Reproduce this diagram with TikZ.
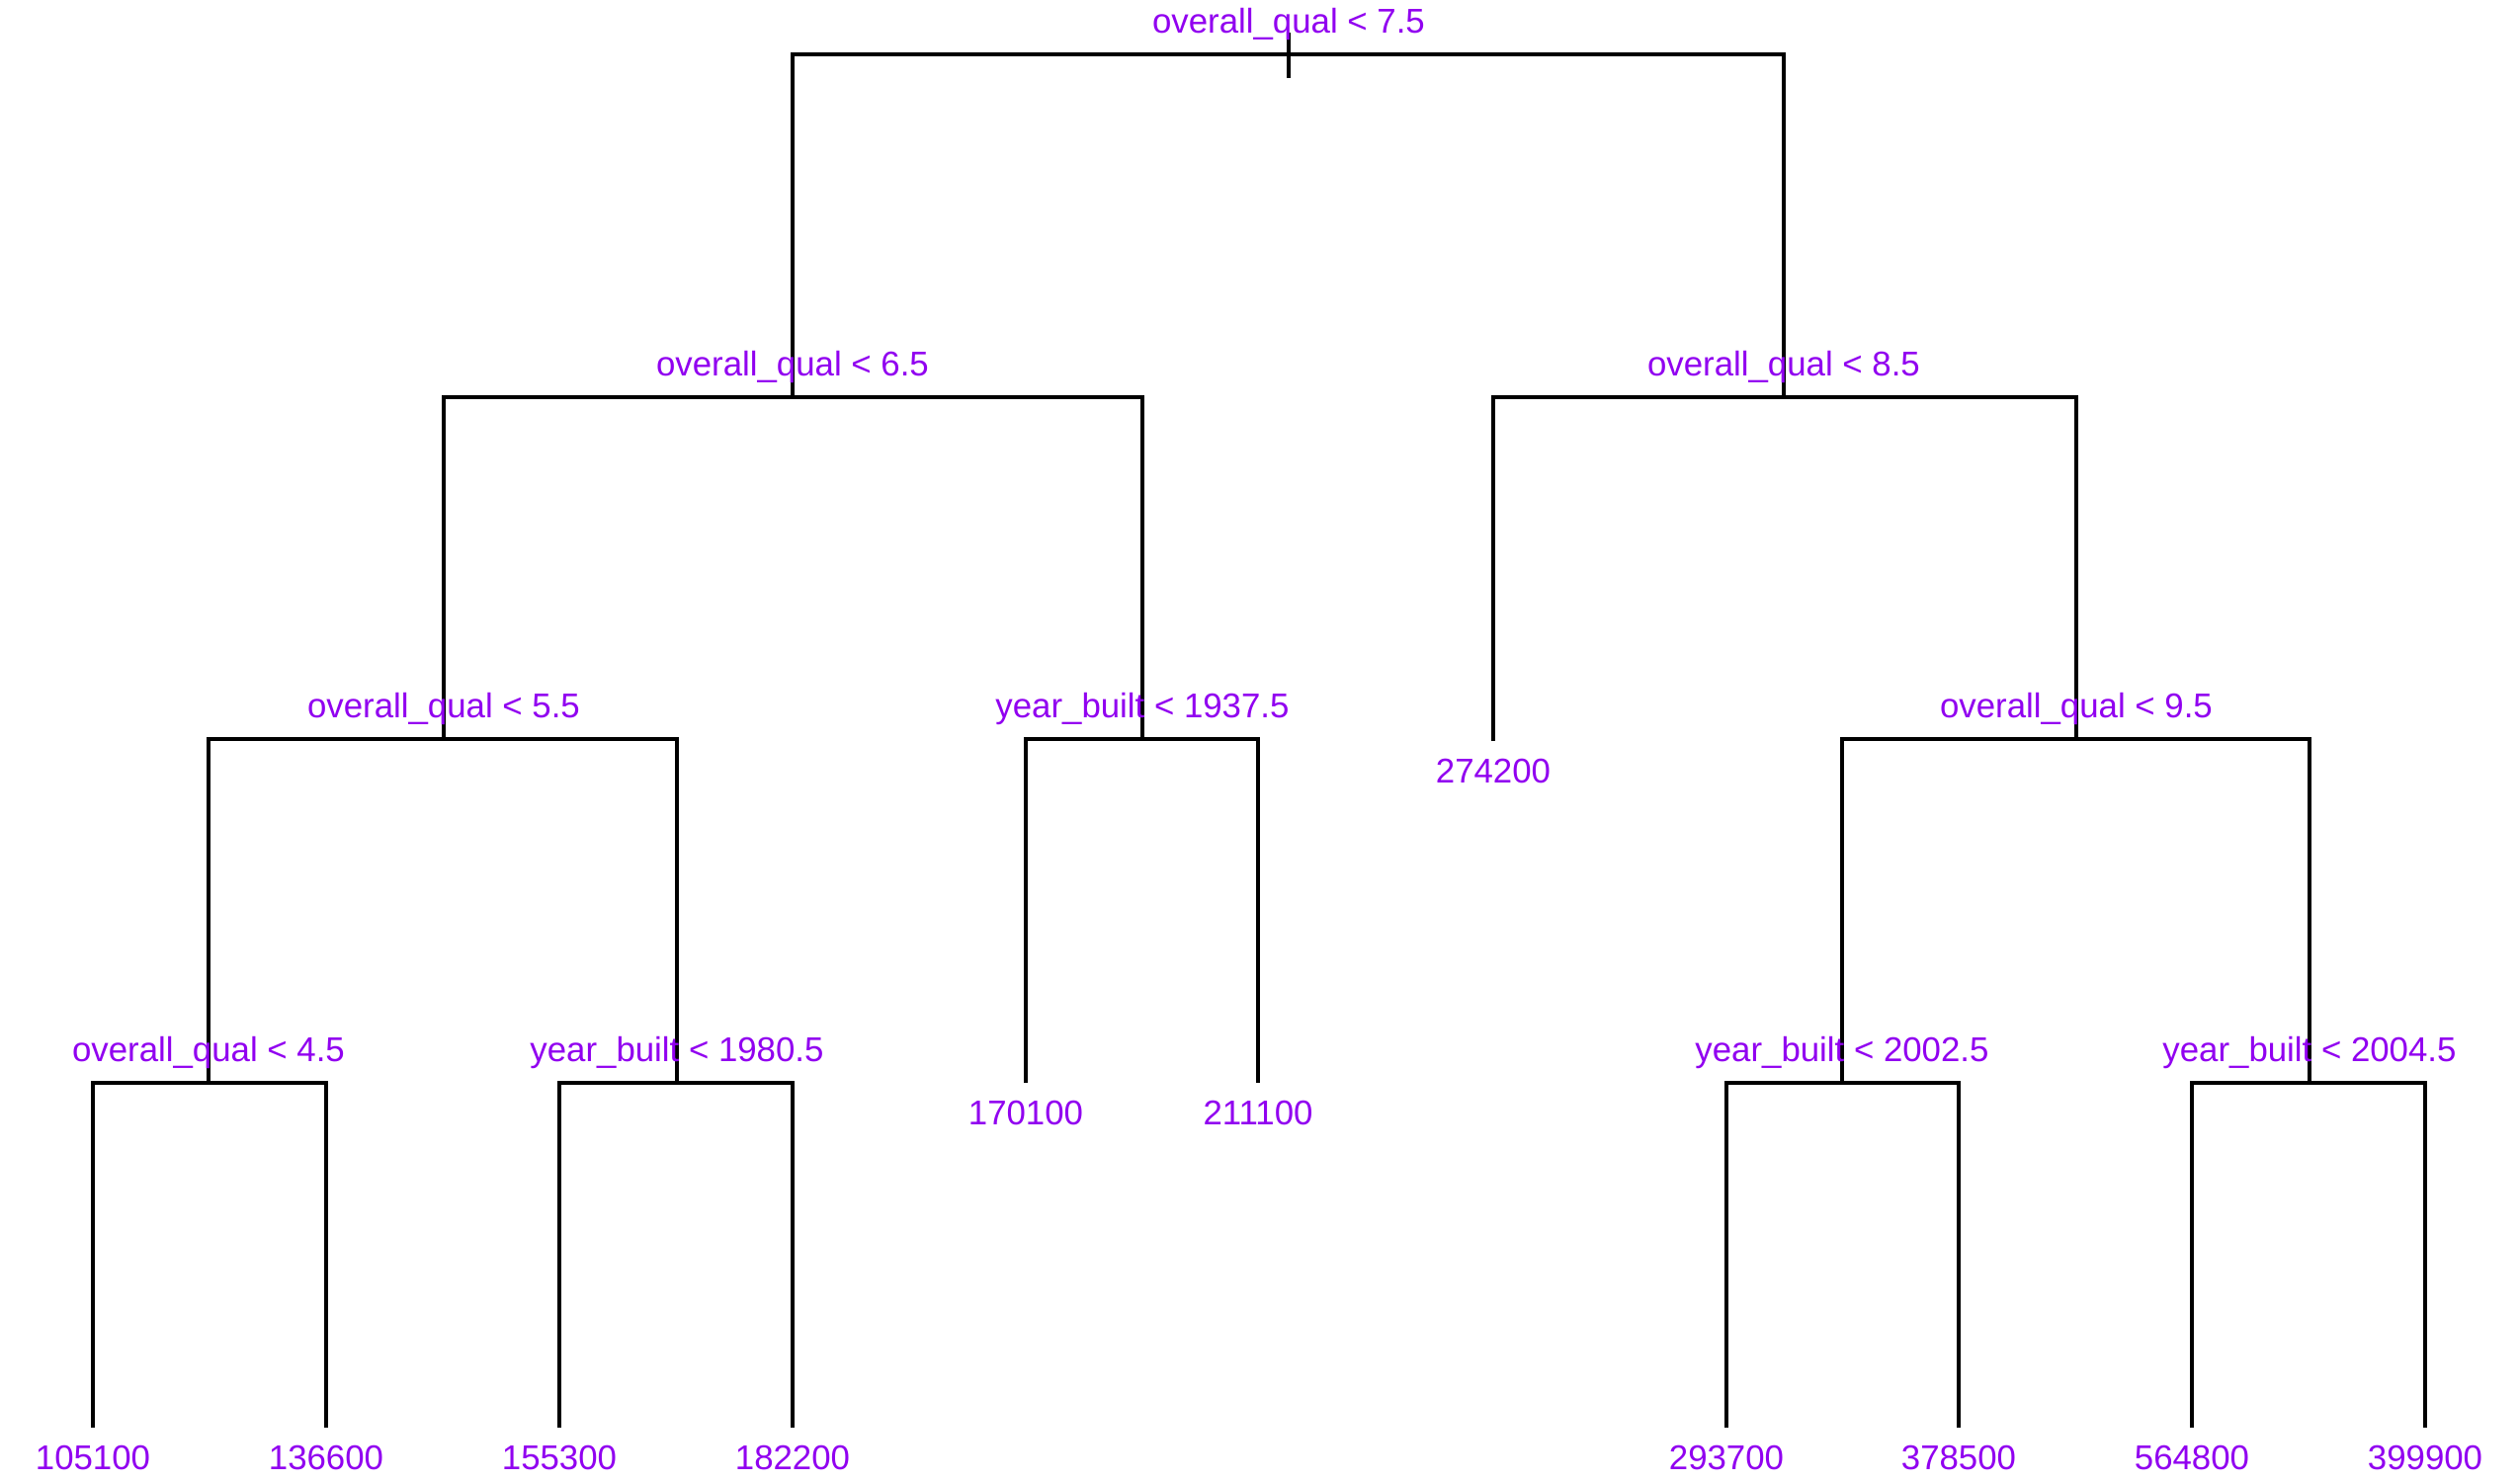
\documentclass[tikz,border=0pt]{standalone}
\usepackage{fontspec}
\setmainfont{Liberation Sans}
\usetikzlibrary{positioning}
\definecolor{splitpurple}{RGB}{145,0,240}

\begin{document}
\begin{tikzpicture}
            [x=0.01cm, y=-0.01cm, line width=0.9pt,
             splitlbl/.style={text=splitpurple, font=\fontsize{9.9pt}{11pt}\selectfont, inner sep=0pt, anchor=base},
             leaflbl/.style={text=splitpurple, font=\fontsize{9.9pt}{11pt}\selectfont, inner sep=0pt, anchor=north}]
            \useasboundingbox (0,0) rectangle (2550,1500);

            % Split points
            \coordinate (s1) at (1304, 55);    % root
            \coordinate (s2) at (802, 402);
            \coordinate (s3) at (1805, 402);
            \coordinate (s4) at (449, 748);
            \coordinate (s5) at (1156, 748);
            \coordinate (s6) at (2101, 748);
            \coordinate (s7) at (211, 1096);
            \coordinate (s8) at (685, 1096);
            \coordinate (s9) at (1864, 1096);
            \coordinate (s10) at (2337, 1096);

            % Leaf ends
            \coordinate (l1) at (94, 1445);
            \coordinate (l2) at (330, 1445);
            \coordinate (l3) at (566, 1445);
            \coordinate (l4) at (802, 1445);
            \coordinate (l5) at (1038, 1096);
            \coordinate (l6) at (1273, 1096);
            \coordinate (l7) at (1511, 750);
            \coordinate (l8) at (1747, 1445);
            \coordinate (l9) at (1982, 1445);
            \coordinate (l10) at (2218, 1445);
            \coordinate (l11) at (2454, 1445);

            % Root stub
            \coordinate (top) at (1304, 33);
            \coordinate (bot) at (1304, 79);
            \draw (top) -- (bot);

            % Draw branches
            \draw (s2) |- (s1) -| (s3);
            \draw (s4) |- (s2) -| (s5);
            \draw (l7) |- (s3) -| (s6);
            \draw (s7) |- (s4) -| (s8);
            \draw (l5) |- (s5) -| (l6);
            \draw (s9) |- (s6) -| (s10);
            \draw (l1) |- (s7) -| (l2);
            \draw (l3) |- (s8) -| (l4);
            \draw (l8) |- (s9) -| (l9);
            \draw (l10) |- (s10) -| (l11);

            % Split labels
            \node[splitlbl] (t1) at ([yshift=0.21cm]s1) {overall\_qual < 7.5};
            \node[splitlbl] (t2) at ([yshift=0.21cm]s2) {overall\_qual < 6.5};
            \node[splitlbl] (t3) at ([yshift=0.21cm]s3) {overall\_qual < 8.5};
            \node[splitlbl] (t4) at ([yshift=0.21cm]s4) {overall\_qual < 5.5};
            \node[splitlbl] (t5) at ([yshift=0.21cm]s5) {year\_built < 1937.5};
            \node[splitlbl] (t6) at ([yshift=0.21cm]s6) {overall\_qual < 9.5};
            \node[splitlbl] (t7) at ([yshift=0.21cm]s7) {overall\_qual < 4.5};
            \node[splitlbl] (t8) at ([yshift=0.21cm]s8) {year\_built < 1980.5};
            \node[splitlbl] (t9) at ([yshift=0.21cm]s9) {year\_built < 2002.5};
            \node[splitlbl] (t10) at ([yshift=0.21cm]s10) {year\_built < 2004.5};

            % Leaf labels
            \node[leaflbl, below=0.17cm of l1] (v1) {105100};
            \node[leaflbl, below=0.17cm of l2] (v2) {136600};
            \node[leaflbl, below=0.17cm of l3] (v3) {155300};
            \node[leaflbl, below=0.17cm of l4] (v4) {182200};
            \node[leaflbl, below=0.17cm of l5] (v5) {170100};
            \node[leaflbl, below=0.17cm of l6] (v6) {211100};
            \node[leaflbl, below=0.17cm of l7] (v7) {274200};
            \node[leaflbl, below=0.17cm of l8] (v8) {293700};
            \node[leaflbl, below=0.17cm of l9] (v9) {378500};
            \node[leaflbl, below=0.17cm of l10] (v10) {564800};
            \node[leaflbl, below=0.17cm of l11] (v11) {399900};
        \end{tikzpicture}
\end{document}
